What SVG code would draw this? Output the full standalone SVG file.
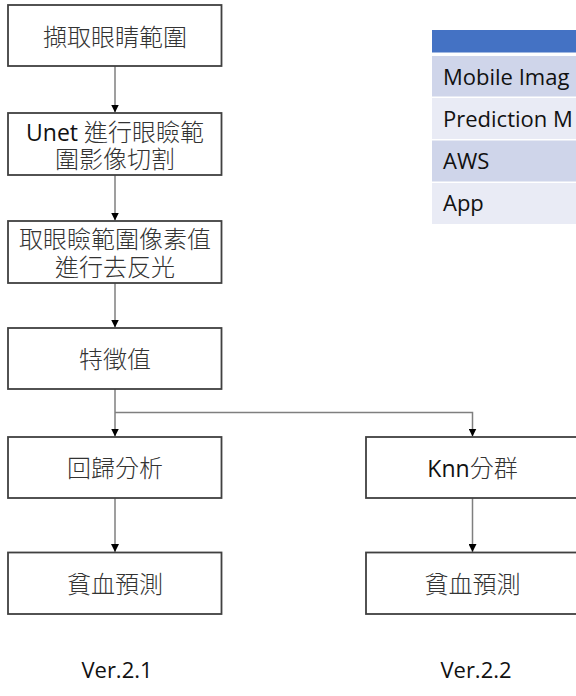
<svg xmlns="http://www.w3.org/2000/svg" width="576" height="696" viewBox="0 0 576 696">
<defs>
<style>
.box{fill:#fff;stroke:#404040;stroke-width:1.8}
.t{font-family:"Open Sans","Noto Sans CJK TC",sans-serif;font-size:24px;fill:#333;text-anchor:middle;font-weight:300}
.l{font-weight:400;fill:#111;font-size:23px}
.lat{font-family:"Open Sans","Noto Sans CJK TC",sans-serif;font-size:22px;fill:#111}
.ver{font-family:"Open Sans",sans-serif;font-size:22px;fill:#111;text-anchor:middle}
.c{fill:none;stroke:#7f7f7f;stroke-width:1.5}
</style>
<marker id="ah" viewBox="0 0 10 10" refX="10" refY="5" markerWidth="8" markerHeight="8" markerUnits="userSpaceOnUse" orient="auto">
<path d="M0,0 L10,5 L0,10 z" fill="#000"/>
</marker>
</defs>
<rect width="576" height="696" fill="#fff"/>

<g id="table">
<rect x="432" y="30" width="150" height="22.5" fill="#4472C4"/>
<rect x="432" y="56" width="150" height="40.5" fill="#CFD5EA"/>
<rect x="432" y="98" width="150" height="41" fill="#E9EBF5"/>
<rect x="432" y="140.5" width="150" height="41" fill="#CFD5EA"/>
<rect x="432" y="183" width="150" height="41" fill="#E9EBF5"/>
<text class="lat" x="443" y="84.5">Mobile Imag</text>
<text class="lat" x="443" y="126.5">Prediction M</text>
<text class="lat" x="443" y="168.5">AWS</text>
<text class="lat" x="443" y="210.5">App</text>
</g>

<g id="connectors">
<line class="c" x1="115" y1="66" x2="115" y2="112.5" marker-end="url(#ah)"/>
<line class="c" x1="115" y1="175" x2="115" y2="220.5" marker-end="url(#ah)"/>
<line class="c" x1="115" y1="283" x2="115" y2="327.5" marker-end="url(#ah)"/>
<line class="c" x1="115" y1="389" x2="115" y2="436.5" marker-end="url(#ah)"/>
<polyline class="c" points="115,412.5 472.5,412.5 472.5,436.5" marker-end="url(#ah)"/>
<line class="c" x1="115" y1="498" x2="115" y2="552" marker-end="url(#ah)"/>
<line class="c" x1="472.5" y1="498" x2="472.5" y2="552" marker-end="url(#ah)"/>
</g>

<g id="n1">
<rect class="box" x="8" y="5" width="213.5" height="61"/>
<text class="t" x="115" y="46">擷取眼睛範圍</text>
</g>
<g id="n2">
<rect class="box" x="8" y="113" width="213.5" height="62"/>
<text class="t" x="115" y="140.5"><tspan class="l">Unet </tspan>進行眼瞼範<tspan x="115" dy="27">圍影像切割</tspan></text>
</g>
<g id="n3">
<rect class="box" x="8" y="221" width="213.5" height="62"/>
<text class="t" x="115" y="247.5">取眼瞼範圍像素值<tspan x="115" dy="28">進行去反光</tspan></text>
</g>
<g id="n4">
<rect class="box" x="8" y="328" width="213.5" height="61"/>
<text class="t" x="115" y="367.5">特徵值</text>
</g>
<g id="n5">
<rect class="box" x="8" y="437" width="213.5" height="61"/>
<text class="t" x="115" y="476.5">回歸分析</text>
</g>
<g id="n6">
<rect class="box" x="366" y="437" width="213.5" height="61"/>
<text class="t" x="472.5" y="476.5"><tspan class="l" font-size="21">Knn</tspan>分群</text>
</g>
<g id="n7">
<rect class="box" x="8" y="552.5" width="213.5" height="61.5"/>
<text class="t" x="115" y="592.5">貧血預測</text>
</g>
<g id="n8">
<rect class="box" x="366" y="552.5" width="213.5" height="61.5"/>
<text class="t" x="472.5" y="592.5">貧血預測</text>
</g>

<g id="labels">
<text class="ver" x="117" y="678">Ver.2.1</text>
<text class="ver" x="476" y="678">Ver.2.2</text>
</g>
</svg>
